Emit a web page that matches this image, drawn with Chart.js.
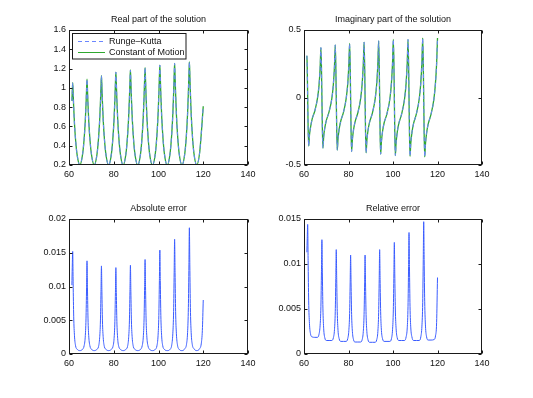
<!DOCTYPE html>
<html>
<head>
<meta charset="utf-8">
<script src="https://cdn.jsdelivr.net/npm/chart.js@4.4.1/dist/chart.umd.min.js"></script>
<style>
  body { margin: 0; background: #fff; }
  #fig { position: relative; width: 533px; height: 398px; }
  #fig canvas { position: absolute; left: 0; top: 0; }
</style>
</head>
<body>
<div id="fig">
  <canvas id="realChart" width="533" height="398"></canvas>
  <canvas id="imagChart" width="533" height="398"></canvas>
  <canvas id="absChart" width="533" height="398"></canvas>
  <canvas id="relChart" width="533" height="398"></canvas>
</div>
<script>
// time samples, shared by every panel
const t = [
  61.3, 61.45, 61.65, 61.85, 62.1, 62.45, 62.95, 63.65, 64.85,
  66.05, 66.75, 67.25, 67.6, 67.85, 68.05, 68.25, 68.5, 68.85, 69.35, 70.05, 71.28,
  72.5, 73.2, 73.7, 74.05, 74.3, 74.5, 74.7, 74.95, 75.3, 75.8, 76.5, 77.73,
  78.95, 79.65, 80.15, 80.5, 80.75, 80.95, 81.15, 81.4, 81.75, 82.25, 82.95, 84.2,
  85.45, 86.15, 86.65, 87.0, 87.25, 87.45, 87.65, 87.9, 88.25, 88.75, 89.45, 90.73,
  92.0, 92.7, 93.2, 93.55, 93.8, 94.0, 94.2, 94.45, 94.8, 95.3, 96.0, 97.3,
  98.6, 99.3, 99.8, 100.15, 100.4, 100.6, 100.8, 101.05, 101.4, 101.9, 102.6, 103.9,
  105.2, 105.9, 106.4, 106.75, 107.0, 107.2, 107.4, 107.65, 108.0, 108.5, 109.2, 110.5,
  111.8, 112.5, 113.0, 113.35, 113.6, 113.8, 114.0, 114.25, 114.6, 115.1, 115.8, 117.1,
  118.4, 119.1, 119.6, 120.0
];

const realPart = [
  0.865, 0.95, 1.053, 0.95, 0.797, 0.627, 0.456, 0.302, 0.2,
  0.307, 0.467, 0.645, 0.823, 0.983, 1.09, 0.983, 0.823, 0.645, 0.467, 0.307, 0.2,
  0.311, 0.478, 0.663, 0.848, 1.015, 1.126, 1.015, 0.848, 0.663, 0.478, 0.311, 0.2,
  0.316, 0.489, 0.682, 0.875, 1.048, 1.164, 1.048, 0.875, 0.682, 0.489, 0.316, 0.2,
  0.318, 0.496, 0.693, 0.89, 1.067, 1.185, 1.067, 0.89, 0.693, 0.496, 0.318, 0.2,
  0.321, 0.503, 0.705, 0.907, 1.089, 1.21, 1.089, 0.907, 0.705, 0.503, 0.321, 0.2,
  0.324, 0.511, 0.718, 0.925, 1.112, 1.236, 1.112, 0.925, 0.718, 0.511, 0.324, 0.2,
  0.326, 0.516, 0.727, 0.938, 1.128, 1.254, 1.128, 0.938, 0.727, 0.516, 0.326, 0.2,
  0.328, 0.521, 0.735, 0.949, 1.142, 1.27, 1.142, 0.949, 0.735, 0.521, 0.328, 0.2,
  0.33, 0.52, 0.68, 0.81
];

const imagPart = [
  0.31, 0.22, 0, -0.22, -0.36, -0.28, -0.22, -0.16, -0.1,
  -0.007, 0.09, 0.22, 0.37, 0.22, 0, -0.225, -0.375, -0.29, -0.225, -0.17, -0.105,
  -0.008, 0.098, 0.234, 0.39, 0.234, 0, -0.234, -0.39, -0.304, -0.234, -0.176, -0.11,
  -0.008, 0.1, 0.24, 0.4, 0.24, 0, -0.24, -0.4, -0.312, -0.24, -0.18, -0.113,
  -0.008, 0.103, 0.246, 0.41, 0.246, 0, -0.246, -0.41, -0.32, -0.246, -0.185, -0.116,
  -0.008, 0.105, 0.252, 0.42, 0.252, 0, -0.252, -0.42, -0.328, -0.252, -0.189, -0.119,
  -0.009, 0.108, 0.258, 0.43, 0.258, 0, -0.258, -0.43, -0.335, -0.258, -0.194, -0.121,
  -0.009, 0.108, 0.258, 0.43, 0.258, 0, -0.261, -0.435, -0.339, -0.261, -0.196, -0.122,
  -0.009, 0.11, 0.264, 0.44, 0.264, 0, -0.264, -0.44, -0.343, -0.264, -0.198, -0.123,
  -0.01, 0.11, 0.25, 0.44
];

const absError = [
  0.0102, 0.0128, 0.0152, 0.0105, 0.0056, 0.0027, 0.0012, 0.0007, 0.0005,
  0.0007, 0.0012, 0.0025, 0.0052, 0.0098, 0.0138, 0.0098, 0.0052, 0.0025, 0.0012, 0.0007, 0.0005,
  0.0007, 0.0011, 0.0024, 0.0049, 0.0093, 0.01305, 0.0093, 0.0049, 0.0024, 0.0011, 0.0007, 0.0005,
  0.0007, 0.0011, 0.0023, 0.0048, 0.0091, 0.0128, 0.0091, 0.0048, 0.0023, 0.0011, 0.0007, 0.0005,
  0.0007, 0.0011, 0.0024, 0.0049, 0.0093, 0.01315, 0.0093, 0.0049, 0.0024, 0.0011, 0.0007, 0.0005,
  0.0007, 0.0012, 0.0025, 0.0052, 0.01, 0.014, 0.01, 0.0052, 0.0025, 0.0012, 0.0007, 0.0005,
  0.0007, 0.0012, 0.0027, 0.0057, 0.0109, 0.0154, 0.0109, 0.0057, 0.0027, 0.0012, 0.0007, 0.0005,
  0.0007, 0.0013, 0.003, 0.0063, 0.0121, 0.017, 0.0121, 0.0063, 0.003, 0.0013, 0.0007, 0.0005,
  0.0008, 0.0014, 0.0032, 0.0069, 0.0132, 0.0187, 0.0132, 0.0069, 0.0032, 0.0014, 0.0008, 0.0005,
  0.0008, 0.0015, 0.0035, 0.008
];

const relError = [
  0.0113, 0.0128, 0.0144, 0.0104, 0.0059, 0.0034, 0.0022, 0.0019, 0.00185,
  0.00185, 0.0022, 0.0032, 0.0053, 0.0092, 0.0127, 0.0091, 0.0051, 0.0028, 0.0018, 0.0015, 0.0015,
  0.0015, 0.0018, 0.0027, 0.0047, 0.0084, 0.0116, 0.0083, 0.0047, 0.0026, 0.0017, 0.0014, 0.0014,
  0.0014, 0.0017, 0.0026, 0.0045, 0.0079, 0.011, 0.0079, 0.0044, 0.0025, 0.0016, 0.00133, 0.00133,
  0.00133, 0.0016, 0.0025, 0.0044, 0.0079, 0.011, 0.0079, 0.0044, 0.0025, 0.0016, 0.0013, 0.0013,
  0.0013, 0.0016, 0.0025, 0.0046, 0.0083, 0.0116, 0.0083, 0.0047, 0.0026, 0.0017, 0.0014, 0.0014,
  0.0014, 0.0017, 0.0027, 0.0049, 0.0089, 0.0124, 0.0089, 0.005, 0.0028, 0.0018, 0.0015, 0.0015,
  0.0015, 0.0019, 0.0029, 0.0053, 0.0097, 0.0135, 0.0097, 0.0053, 0.0029, 0.0019, 0.0015, 0.0015,
  0.0015, 0.0019, 0.0031, 0.0057, 0.0105, 0.0147, 0.0105, 0.0058, 0.0031, 0.0019, 0.00155, 0.00155,
  0.0016, 0.002, 0.0035, 0.0085
];

const seriesNames = ["Runge\u2013Kutta", "Constant of Motion"];
const xTicks = [60, 80, 100, 120, 140];

const FONT = "'Liberation Sans', Arial, Helvetica, sans-serif";
const W = 533, H = 398;
const YW = 40, XH = 20, TITLE_H = 16;

const pts = (arr) => t.map((x, i) => ({ x: x, y: arr[i] }));
const fmt = (v) => String(+Number(v).toFixed(4));

// box, inside ticks and the little legend, matlab style
const framePlugin = {
  id: "frame",
  afterDatasetsDraw(chart, args, opts) {
    const { ctx, chartArea: a, scales } = chart;
    const tl = 3;
    ctx.save();
    ctx.strokeStyle = "#1a1a1a";
    ctx.lineWidth = 1;
    const L = Math.round(a.left) + 0.5, R = Math.round(a.right) - 0.5;
    const T = Math.round(a.top) + 0.5, B = Math.round(a.bottom) - 0.5;
    ctx.strokeRect(L, T, R - L, B - T);
    ctx.beginPath();
    scales.x.ticks.forEach((tk) => {
      const px = Math.round(scales.x.getPixelForValue(tk.value)) + 0.5;
      ctx.moveTo(px, B); ctx.lineTo(px, B - tl);
      ctx.moveTo(px, T); ctx.lineTo(px, T + tl);
    });
    scales.y.ticks.forEach((tk) => {
      const py = Math.round(scales.y.getPixelForValue(tk.value)) + 0.5;
      ctx.moveTo(L, py); ctx.lineTo(L + tl, py);
      ctx.moveTo(R, py); ctx.lineTo(R - tl, py);
    });
    ctx.stroke();

    if (opts.legend) {
      const bx = L + 3, by = T + 3, bw = 113.5, bh = 25.5;
      ctx.fillStyle = "#fff";
      ctx.fillRect(bx, by, bw, bh);
      ctx.strokeRect(bx, by, bw, bh);
      ctx.font = "9px " + FONT;
      ctx.textBaseline = "middle";
      chart.data.datasets.forEach((ds, i) => {
        const y = by + 8 + i * 11;
        ctx.strokeStyle = ds.borderColor;
        ctx.lineWidth = 1;
        ctx.setLineDash(ds.borderDash || []);
        ctx.beginPath();
        ctx.moveTo(bx + 5.5, y); ctx.lineTo(bx + 32.5, y);
        ctx.stroke();
        ctx.setLineDash([]);
        ctx.fillStyle = "#111";
        ctx.fillText(ds.label, bx + 36.5, y + 0.5);
      });
    }
    ctx.restore();
  }
};

function subplot(id, area, yMin, yMax, yStep, title, datasets, legend) {
  new Chart(document.getElementById(id), {
    type: "line",
    data: { datasets: datasets },
    plugins: [framePlugin],
    options: {
      responsive: false,
      animation: false,
      events: [],
      layout: {
        padding: {
          left: area.left - YW,
          right: W - area.right,
          top: area.top - TITLE_H,
          bottom: H - area.bottom - XH
        }
      },
      elements: {
        point: { radius: 0 },
        line: { borderWidth: 1, cubicInterpolationMode: "monotone" }
      },
      plugins: {
        legend: { display: false },
        tooltip: { enabled: false },
        title: {
          display: true,
          text: title,
          fullSize: false,
          color: "#111",
          font: { family: FONT, size: 9, weight: "normal", lineHeight: "12px" },
          padding: { top: 0, bottom: 4 }
        },
        frame: { legend: legend }
      },
      scales: {
        x: {
          type: "linear",
          min: 60,
          max: 140,
          afterFit: (s) => { s.height = XH; },
          afterBuildTicks: (s) => { s.ticks = xTicks.map((v) => ({ value: v })); },
          grid: { display: false, drawTicks: false },
          border: { display: false },
          ticks: {
            padding: 4,
            color: "#111",
            maxRotation: 0,
            font: { family: FONT, size: 9 },
            callback: fmt
          }
        },
        y: {
          type: "linear",
          min: yMin,
          max: yMax,
          afterFit: (s) => { s.width = YW; },
          grid: { display: false, drawTicks: false },
          border: { display: false },
          ticks: {
            stepSize: yStep,
            padding: 3,
            color: "#111",
            font: { family: FONT, size: 9 },
            callback: fmt
          }
        }
      }
    }
  });
}

const rkStyle = { borderColor: "#6a86ff", borderDash: [4, 3], borderWidth: 1 };
const comStyle = { borderColor: "#2fa82f", borderWidth: 1.3 };
const errStyle = { borderColor: "#3a5cff", borderWidth: 1 };

subplot("realChart", { left: 69, top: 30, right: 248, bottom: 165 }, 0.2, 1.6, 0.2,
  "Real part of the solution",
  [
    Object.assign({ label: seriesNames[0], data: pts(realPart) }, rkStyle),
    Object.assign({ label: seriesNames[1], data: pts(realPart) }, comStyle)
  ], true);

subplot("imagChart", { left: 304, top: 30, right: 482, bottom: 165 }, -0.5, 0.5, 0.5,
  "Imaginary part of the solution",
  [
    Object.assign({ label: seriesNames[0], data: pts(imagPart) }, rkStyle),
    Object.assign({ label: seriesNames[1], data: pts(imagPart) }, comStyle)
  ], false);

subplot("absChart", { left: 69, top: 219, right: 248, bottom: 354 }, 0, 0.02, 0.005,
  "Absolute error",
  [Object.assign({ label: "Absolute error", data: pts(absError) }, errStyle)], false);

subplot("relChart", { left: 304, top: 219, right: 482, bottom: 354 }, 0, 0.015, 0.005,
  "Relative error",
  [Object.assign({ label: "Relative error", data: pts(relError) }, errStyle)], false);
</script>
</body>
</html>
